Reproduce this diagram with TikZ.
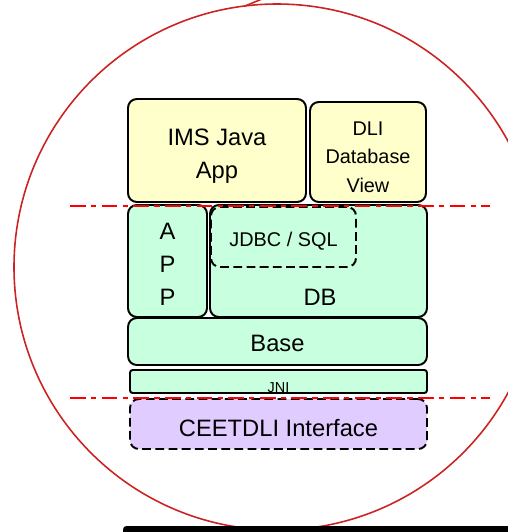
\documentclass[tikz,border=0pt]{standalone}
\usepackage{fontspec}
\setmainfont{Liberation Sans}
\usetikzlibrary{positioning}

\definecolor{appyellow}{HTML}{FFFFCC}
\definecolor{layergreen}{HTML}{C8FFDE}
\definecolor{ifacepurple}{HTML}{E0CCFF}
\definecolor{ringred}{HTML}{CC2222}

\begin{document}
\begin{tikzpicture}[x=0.02cm, y=-0.02cm,
    box/.style={draw=black, line width=1.1pt, rounded corners=5pt, inner sep=0pt, outer sep=0pt},
    dashbox/.style={box, dash pattern=on 5pt off 2.5pt},
    cut/.style={red, line width=1.1pt, dash pattern=on 9pt off 3pt on 3pt off 3pt},
    ring/.style={ringred, line width=0.9pt},
    big/.style={align=center, font={\fontsize{13.5pt}{18.8pt}\selectfont}},
    mid/.style={align=center, font={\fontsize{11.3pt}{16.2pt}\selectfont}}]

    \useasboundingbox (0,0) rectangle (508,532);
    \clip (0,0) rectangle (508,532);

    % --- outer ring ---
    \draw[ring] (277,267) circle [radius=263];
    \draw[ring] (245,6) -- (262,-1);

    % --- application level ---
    \node[box, fill=appyellow, minimum width=3.56cm, minimum height=2.06cm] (ims) at (217,150.5) {};
    \node[big] (imstext) at (217,156.5) {IMS Java\\App};
    \node[box, fill=appyellow, minimum width=2.32cm, minimum height=2.0cm] (dli) at (368,152) {};
    \node[mid] (dlitext) at (368,157) {DLI\\Database\\View};

    % --- java layers ---
    \node[box, fill=layergreen, minimum width=1.58cm, minimum height=2.24cm] (app) at (167.5,261) {};
    \node[big] (apptext) at (167.5,264) {A\\P\\P};
    \node[box, fill=layergreen, minimum width=4.34cm, minimum height=2.24cm] (db) at (318.5,261) {};
    \node[big, anchor=base] (dbtext) at (320,305) {DB};
    \node[dashbox, fill=layergreen, minimum width=2.9cm, minimum height=1.2cm] (jdbc) at (283.5,237) {};
    \node[mid] (jdbctext) at (283.5,241) {JDBC / SQL};
    \node[box, fill=layergreen, minimum width=5.98cm, minimum height=0.94cm] (base) at (277.5,341.5) {};
    \node[big] (basetext) at (277.5,343.5) {Base};
    \node[box, rounded corners=1.5pt, fill=layergreen, minimum width=5.94cm, minimum height=0.46cm] (jni) at (278.5,381.5) {};
    \node[anchor=base, font={\fontsize{8.2pt}{10pt}\selectfont}] (jnitext) at (278.5,392) {JNI};

    % --- native interface ---
    \node[dashbox, fill=ifacepurple, minimum width=5.94cm, minimum height=1.0cm] (ceet) at (278.5,424) {};
    \node[big] (ceettext) at (278.5,428) {CEETDLI Interface};

    % --- boundaries ---
    \draw[cut] (70,206) -- (490,206);
    \draw[cut] (70,398) -- (490,398);

    % --- bottom bar ---
    \fill[black, rounded corners=2pt] (123,526) rectangle (520,540);

\end{tikzpicture}
\end{document}
